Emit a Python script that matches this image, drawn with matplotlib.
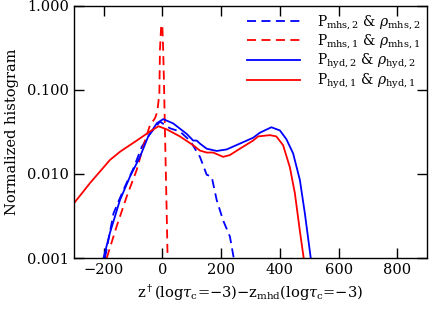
import numpy as np
import matplotlib
matplotlib.use("Agg")
import matplotlib.pyplot as plt

plt.rcParams['font.family'] = ['DejaVu Serif']
plt.rcParams['mathtext.fontset'] = 'dejavuserif'

# P_hyd,1 & rho_hyd,1 (red solid)
x_hyd1 = [-300, -246, -178, -143, -87, -42, -13, 15, 60, 105, 128, 151, 173, 207, 230,
          264, 309, 326, 366, 388, 411, 434, 451, 468, 481]
y_hyd1 = [0.0045, 0.0078, 0.0147, 0.0185, 0.025, 0.032, 0.037, 0.034, 0.028, 0.022,
          0.019, 0.018, 0.018, 0.016, 0.0168, 0.020, 0.025, 0.028, 0.029, 0.028, 0.022,
          0.012, 0.0059, 0.0021, 0.001]

# P_hyd,2 & rho_hyd,2 (blue solid)
x_hyd2 = [-200, -178, -144, -110, -76, -48, -19, 3, 37, 83, 105, 117, 128, 151, 185,
          219, 264, 309, 332, 371, 400, 422, 445, 468, 485, 505]
y_hyd2 = [0.001, 0.002, 0.0049, 0.0093, 0.016, 0.028, 0.040, 0.045, 0.040, 0.030,
          0.025, 0.025, 0.023, 0.020, 0.0188, 0.0196, 0.023, 0.027, 0.031, 0.036, 0.033,
          0.026, 0.0176, 0.0085, 0.0034, 0.001]

# P_mhs,2 & rho_mhs,2 (blue dashed)
x_mhs2 = [-195, -166, -132, -98, -70, -42, -8, 26, 60, 94, 128, 151, 168, 185, 207, 230, 243]
y_mhs2 = [0.001, 0.0034, 0.0065, 0.0117, 0.021, 0.030, 0.042, 0.035, 0.032, 0.025,
          0.016, 0.0098, 0.0093, 0.0049, 0.0028, 0.0018, 0.001]

# P_mhs,1 & rho_mhs,1 (red dashed)
x_mhs1 = [-189, -155, -121, -87, -59, -42, -25, -17, -10, -8, -4, 0, 3, 6, 9, 15, 18]
y_mhs1 = [0.001, 0.0024, 0.0054, 0.0112, 0.025, 0.038, 0.046, 0.055, 0.091, 0.30, 0.57,
          0.60, 0.30, 0.11, 0.033, 0.0034, 0.001]

fig = plt.figure(figsize=(4.36, 3.12), dpi=100)
ax = fig.add_axes([0.170, 0.173, 0.809, 0.808])

ax.plot(x_mhs2, y_mhs2, color='blue', ls=(0, (5, 3)), lw=1.3,
        label=r'P$_{\rm mhs,2}$ & $\rho_{\rm mhs,2}$')
ax.plot(x_mhs1, y_mhs1, color='red', ls=(0, (5, 3)), lw=1.3,
        label=r'P$_{\rm mhs,1}$ & $\rho_{\rm mhs,1}$')
ax.plot(x_hyd2, y_hyd2, color='blue', lw=1.3,
        label=r'P$_{\rm hyd,2}$ & $\rho_{\rm hyd,2}$')
ax.plot(x_hyd1, y_hyd1, color='red', lw=1.3,
        label=r'P$_{\rm hyd,1}$ & $\rho_{\rm hyd,1}$')

ax.set_yscale('log')
ax.set_xlim(-300, 900)
ax.set_ylim(0.001, 1.0)
ax.set_xticks([-200, 0, 200, 400, 600, 800])
ax.set_yticks([0.001, 0.01, 0.1, 1.0])
ax.set_yticklabels(['0.001', '0.010', '0.100', '1.000'])
ax.minorticks_off()
ax.tick_params(direction='in', top=True, right=True, length=7, labelsize=10.5, width=1)
for s in ax.spines.values():
    s.set_linewidth(1)

ax.set_xlabel(r'z$^\dagger$(log$\tau_{\rm c}$=$-$3)$-$z$_{\rm mhd}$(log$\tau_{\rm c}$=$-$3)', fontsize=10.5)
ax.set_ylabel('Normalized histogram', fontsize=10.5, labelpad=6)

ax.legend(loc='upper right', frameon=False, fontsize=10, handlelength=3.8,
          labelspacing=0.05, borderaxespad=0.1, handletextpad=1.2)

fig.savefig('out.png', dpi=100)
